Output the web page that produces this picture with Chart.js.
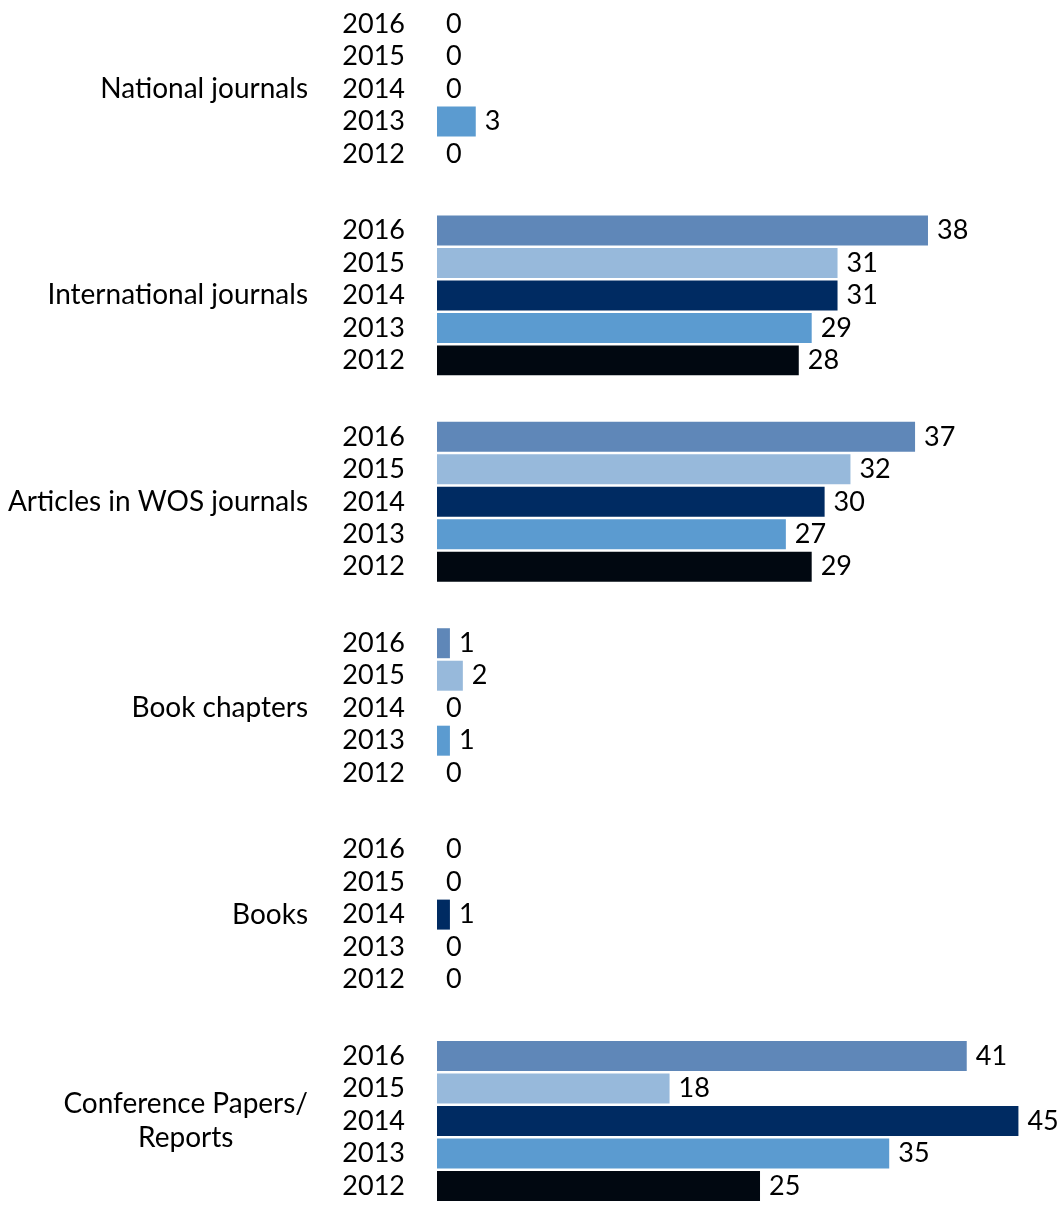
<!DOCTYPE html>
<html>
<head>
<meta charset="utf-8">
<script src="https://cdn.jsdelivr.net/npm/chart.js"></script>
<style>
  html, body { margin: 0; padding: 0; background: #fff; }
  #wrap { width: 1063px; height: 1205px; position: relative; }
</style>
</head>
<body>
<div id="wrap"><canvas id="pubChart"></canvas></div>
<script>
// Data
const categories = [
  ['National journals'],
  ['International journals'],
  ['Articles in WOS journals'],
  ['Book chapters'],
  ['Books'],
  ['Conference Papers/', 'Reports']
];
const years = ['2016', '2015', '2014', '2013', '2012'];
const values2016 = [0, 38, 37, 1, 0, 41];
const values2015 = [0, 31, 32, 2, 0, 18];
const values2014 = [0, 31, 30, 0, 1, 45];
const values2013 = [3, 29, 27, 1, 0, 35];
const values2012 = [0, 28, 29, 0, 0, 25];
const yearColors = ['#5f87b8', '#97b9db', '#002b62', '#5b9bd0', '#010811'];

const seriesValues = [values2016, values2015, values2014, values2013, values2012];
const NUM_FONT = '27px Lato, "Open Sans", sans-serif';
const CAT_FONT = '28px Lato, "Open Sans", sans-serif';

// Year labels, value labels and category labels
const labelPlugin = {
  id: 'labelPlugin',
  afterDatasetsDraw(chart) {
    const ctx = chart.ctx;
    const left = chart.chartArea.left;
    ctx.save();
    ctx.fillStyle = '#000';
    ctx.textBaseline = 'middle';

    ctx.font = NUM_FONT;
    chart.data.datasets.forEach((ds, i) => {
      const meta = chart.getDatasetMeta(i);
      meta.data.forEach((bar, j) => {
        ctx.textAlign = 'right';
        ctx.fillText(ds.label, left - 32, bar.y);
        ctx.textAlign = 'left';
        ctx.fillText(String(ds.data[j]), bar.x + 9, bar.y);
      });
    });

    ctx.font = CAT_FONT;
    const yScale = chart.scales.y;
    const lineH = 34;
    categories.forEach((lines, i) => {
      const y = yScale.getPixelForTick(i);
      const w = Math.max(...lines.map(l => ctx.measureText(l).width));
      ctx.textAlign = 'center';
      lines.forEach((l, k) => {
        ctx.fillText(l, left - 129 - w / 2, y + (k - (lines.length - 1) / 2) * lineH);
      });
    });
    ctx.restore();
  }
};

const ctx = document.getElementById('pubChart').getContext('2d');
const pubChart = new Chart(ctx, {
  type: 'bar',
  data: {
    labels: categories,
    datasets: years.map((yr, i) => ({
      label: yr,
      data: seriesValues[i],
      backgroundColor: yearColors[i],
      borderWidth: 0,
      clip: false
    }))
  },
  options: {
    indexAxis: 'y',
    responsive: true,
    maintainAspectRatio: false,
    animation: false,
    layout: { padding: { left: 437, right: 0, top: 89, bottom: 84 } },
    datasets: { bar: { categoryPercentage: 0.787, barPercentage: 0.923 } },
    plugins: {
      legend: { display: false },
      tooltip: { enabled: false }
    },
    scales: {
      x: { display: false, min: 0, max: 48.45 },
      y: { display: false, offset: false }
    }
  },
  plugins: [labelPlugin]
});
</script>
</body>
</html>
